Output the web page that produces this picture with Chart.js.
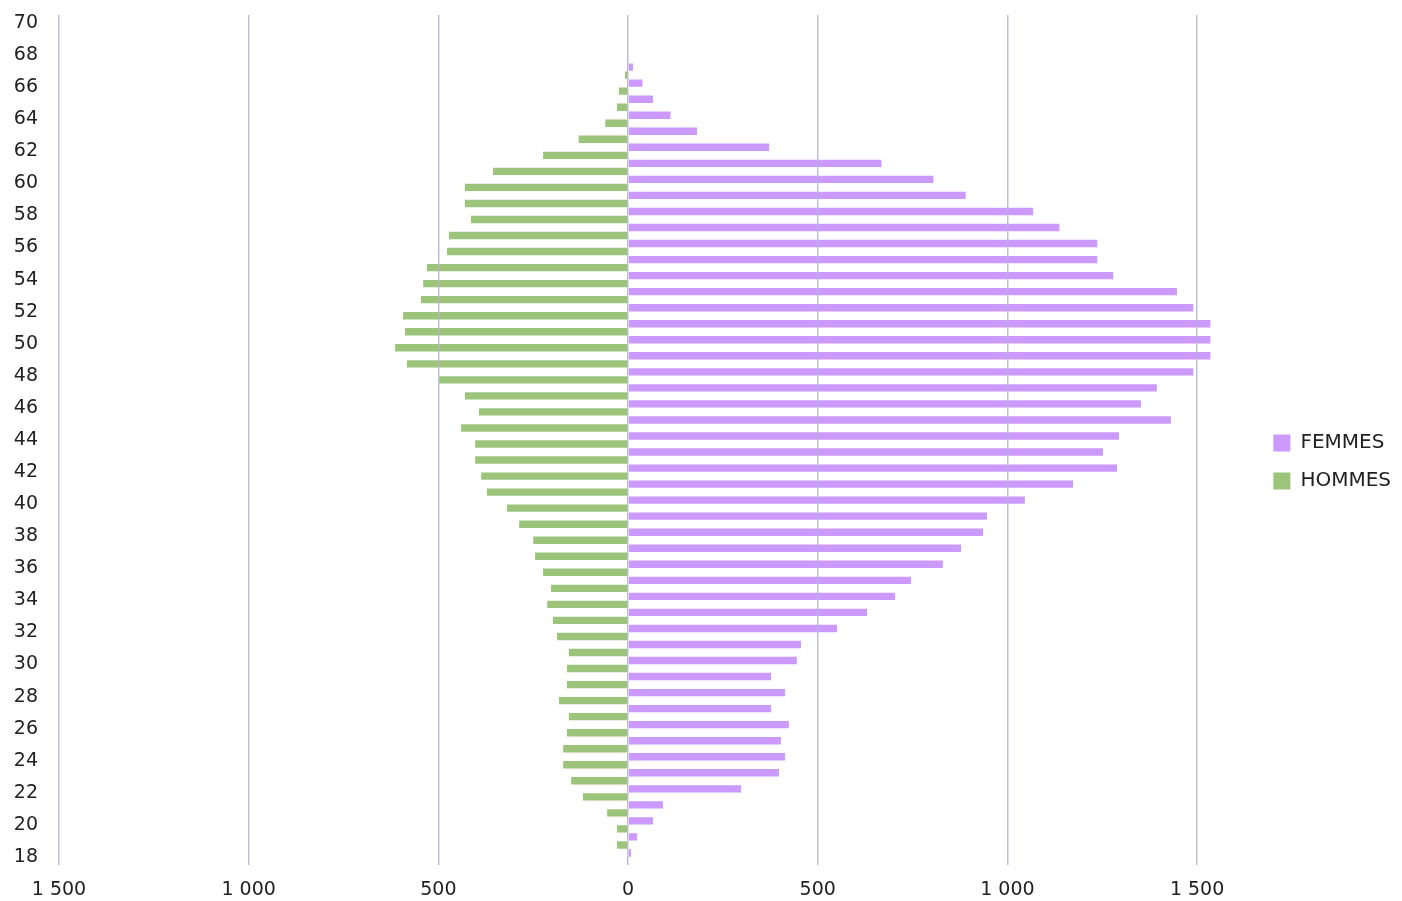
<!DOCTYPE html>
<html>
<head>
<meta charset="utf-8">
<script src="https://cdn.jsdelivr.net/npm/chart.js@4/dist/chart.umd.min.js"></script>
<style>
  body { margin: 0; background: #fff; }
  #wrap { width: 1402px; height: 901px; position: relative; }
</style>
</head>
<body>
<div id="wrap"><canvas id="pyramide"></canvas></div>
<script>
// Âges, du plus âgé (en haut) au plus jeune
const ages = [70, 69, 68, 67, 66, 65, 64, 63, 62, 61, 60, 59, 58, 57, 56, 55, 54, 53, 52, 51,
  50, 49, 48, 47, 46, 45, 44, 43, 42, 41, 40, 39, 38, 37, 36, 35, 34, 33, 32, 31,
  30, 29, 28, 27, 26, 25, 24, 23, 22, 21, 20, 19, 18];

const femmes = [0, 0, 0, 13, 38, 66, 112, 182, 372, 668, 805, 890, 1068, 1137, 1237, 1237, 1279, 1447, 1490, 1600,
  1620, 1600, 1490, 1394, 1352, 1431, 1294, 1252, 1289, 1173, 1046, 946, 936, 878, 830, 746, 704, 630, 551, 456,
  445, 377, 414, 377, 424, 403, 414, 398, 298, 92, 66, 24, 8];

const hommes = [0, 0, 3, 8, 24, 29, 60, 130, 224, 356, 430, 430, 414, 472, 477, 530, 540, 546, 593, 588,
  614, 583, 498, 430, 393, 440, 403, 403, 387, 372, 319, 287, 250, 245, 224, 203, 213, 198, 187, 156,
  161, 161, 182, 156, 161, 171, 171, 150, 119, 55, 29, 29, 3];

const xTicks = [-1500, -1000, -500, 0, 500, 1000, 1500];

const COL_F = '#cc99ff';
const COL_H = '#9cc47a';
const FONT = { family: 'DejaVu Sans', size: 19 };

function milliers(v) {
  return String(Math.abs(v)).replace(/\B(?=(\d{3})+(?!\d))/g, ' ');
}

// la légende est décalée vers la droite et vers le bas comme sur le modèle
const decalerLegende = {
  id: 'decalerLegende',
  afterLayout(chart) {
    const lg = chart.legend;
    const dx = 45, dy = 4;
    lg.left += dx; lg.right += dx;
    lg.top += dy; lg.bottom += dy;
  }
};

new Chart(document.getElementById('pyramide'), {
  type: 'bar',
  data: {
    labels: ages.map(String),
    datasets: [
      {
        label: 'FEMMES',
        data: femmes,
        backgroundColor: COL_F,
        borderWidth: 0,
        categoryPercentage: 1,
        barPercentage: 0.92
      },
      {
        label: 'HOMMES',
        data: hommes.map(v => -v),
        backgroundColor: COL_H,
        borderWidth: 0,
        categoryPercentage: 1,
        barPercentage: 0.92
      }
    ]
  },
  plugins: [decalerLegende],
  options: {
    indexAxis: 'y',
    responsive: true,
    maintainAspectRatio: false,
    animation: false,
    layout: { padding: { top: 15, right: 46, left: 0, bottom: 0 } },
    plugins: {
      tooltip: { enabled: false },
      legend: {
        position: 'right',
        labels: {
          font: { family: 'DejaVu Sans', size: 20 },
          color: '#222',
          boxWidth: 17,
          boxHeight: 17,
          padding: 18
        }
      }
    },
    scales: {
      x: {
        min: -1500,
        max: 1535,
        afterFit: s => { s.height = 36; },
        afterBuildTicks: s => { s.ticks = xTicks.map(v => ({ value: v })); },
        ticks: {
          font: FONT,
          color: '#222',
          padding: 14,
          maxRotation: 0,
          callback: v => milliers(v)
        },
        grid: { color: 'rgba(180,180,212,0.85)', lineWidth: 1.5, drawTicks: false, z: 1 },
        border: { display: false }
      },
      y: {
        afterFit: s => { s.width = 59; },
        ticks: {
          font: FONT,
          color: '#222',
          padding: 0,
          autoSkip: false,
          callback: (v, i) => (i % 2 === 0 ? ages[i] : '')
        },
        grid: { display: false, drawTicks: true, tickLength: 21 },
        border: { display: false }
      }
    }
  }
});
</script>
</body>
</html>
